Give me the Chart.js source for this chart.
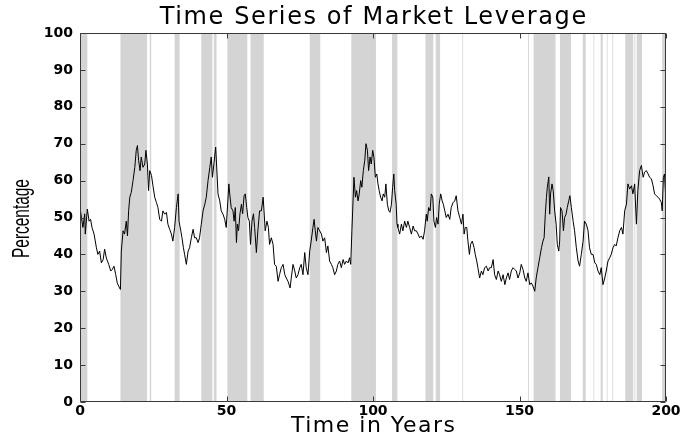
<!DOCTYPE html>
<html><head><meta charset="utf-8">
<script src="https://cdn.jsdelivr.net/npm/chart.js@4"></script>
<style>html,body{margin:0;padding:0;background:#fff}#wrap{width:683px;height:437px}</style>
</head><body><div id="wrap"><canvas id="c" width="683" height="437"></canvas></div>
<script>
const chartTitle = 'Time Series of Market Leverage';
const xTitle = 'Time in Years';
const yTitle = 'Percentage';
const xTickStep = 50;
const yTickStep = 10;

const years = [
0.0,0.5,1.0,1.6,1.8,2.5,3.1,3.6,4.1,4.8,5.6,6.1,6.7,7.3,7.9,8.4,9.0,9.8,10.5,11.0,11.6,12.2,12.7,13.5,13.8,
14.1,14.7,15.2,15.8,16.2,16.6,17.0,17.5,18.1,18.7,19.2,19.6,20.0,20.5,20.9,21.5,22.1,22.5,23.0,23.4,23.8,24.4,24.9,
25.5,26.1,26.6,27.2,27.8,28.3,28.9,29.5,30.0,30.6,31.2,31.7,32.3,32.9,33.5,33.8,34.4,34.8,35.3,35.7,36.3,36.9,37.4,
38.0,38.6,39.1,39.7,40.3,40.8,41.4,42.0,42.6,43.1,43.7,44.3,44.8,45.2,45.7,46.3,46.6,47.1,47.7,48.2,48.8,49.4,49.9,
50.5,50.8,51.1,51.6,52.2,52.6,53.0,53.4,53.7,54.1,54.6,55.1,55.5,56.0,56.4,56.9,57.3,57.8,58.2,58.7,59.2,59.6,60.2,
60.7,61.3,61.9,62.5,62.8,63.2,63.8,64.3,64.7,65.3,65.9,66.4,67.0,67.6,68.1,68.7,69.3,69.9,70.4,71.0,71.7,72.1,72.7,
73.3,73.8,74.4,75.0,75.5,76.1,76.7,77.2,77.8,78.4,78.9,79.5,79.9,80.3,80.7,81.2,81.8,82.4,82.9,83.5,84.1,84.6,85.2,
85.8,86.3,86.9,87.5,88.0,88.6,89.2,89.8,90.3,90.9,91.5,92.0,92.4,92.8,93.5,94.0,94.4,94.9,95.3,95.8,96.2,96.7,97.2,
97.6,98.1,98.5,99.0,99.4,99.9,100.3,100.8,101.3,101.7,102.1,102.6,103.1,103.5,104.0,104.4,104.9,105.4,105.8,106.3,
106.7,107.1,107.4,107.9,108.2,108.5,109.1,109.7,110.2,110.8,111.4,111.9,112.5,113.1,113.7,114.2,114.8,115.4,115.9,
116.5,117.1,117.6,118.2,118.5,119.0,119.5,119.9,120.4,120.8,121.3,121.7,122.2,122.6,123.1,123.6,124.0,124.5,125.0,
125.6,126.2,126.7,127.3,127.9,128.4,129.0,129.6,130.2,130.7,131.1,131.5,132.0,132.4,132.9,133.3,133.9,134.5,134.9,
135.4,135.8,136.4,137.0,137.5,138.1,138.7,139.3,139.8,140.4,141.0,141.5,142.1,142.7,143.2,143.8,144.4,145.0,145.5,
146.1,146.6,147.2,147.8,148.4,148.9,149.5,150.1,150.6,151.2,151.8,152.3,152.9,153.5,154.0,154.6,155.2,155.7,156.3,
156.9,157.5,158.0,158.4,158.8,159.2,159.5,160.0,160.3,160.6,161.1,161.5,162.0,162.5,162.9,163.4,163.7,164.0,164.5,
165.0,165.4,165.9,166.3,166.8,167.2,167.7,168.3,168.8,169.4,170.0,170.5,171.1,171.7,172.2,172.8,173.4,173.9,174.5,
175.1,175.7,176.2,176.8,177.4,177.9,178.5,179.1,179.6,180.2,180.8,181.3,181.9,182.5,183.0,183.6,184.2,184.8,185.3,
185.9,186.5,187.0,187.6,188.2,188.7,189.3,189.9,190.4,191.0,191.6,192.2,192.7,193.3,193.9,194.4,195.0,195.6,196.1,
196.7,197.3,197.8,198.4,198.7,199.1,199.5,199.9,200.0
];

const leverage = [
52.7,50.0,47.3,51.0,45.5,52.3,49.0,49.5,47.3,45.5,41.8,40.0,40.9,37.7,38.6,41.4,39.0,37.3,35.5,35.9,36.8,34.5,32.3,30.9,30.5,
40.9,46.4,45.5,49.0,45.0,51.8,55.5,56.8,60.0,63.6,68.2,69.5,65.5,62.7,66.4,63.6,64.5,68.2,64.5,57.3,62.7,61.4,58.6,
55.5,54.0,52.7,49.5,49.0,51.8,50.9,51.4,48.2,46.8,45.5,43.6,47.3,52.7,56.4,49.0,46.4,44.5,41.8,40.0,37.3,40.9,41.8,
44.5,46.8,44.5,44.5,43.2,44.5,48.2,51.8,53.6,55.5,60.0,63.6,66.4,60.9,64.5,69.1,64.5,56.4,54.5,51.8,50.9,49.5,47.3,
55.0,59.1,56.4,52.7,51.8,49.0,52.7,43.2,48.2,46.4,51.0,53.6,51.0,55.9,56.4,52.7,50.0,49.0,42.7,49.0,51.0,47.3,40.5,
46.4,51.8,51.8,55.5,51.8,46.4,49.0,47.3,42.7,44.5,42.7,37.3,36.8,32.7,34.5,36.4,37.3,34.5,33.6,32.7,30.9,33.6,37.3,
35.5,33.6,34.5,36.4,37.3,34.5,40.5,36.4,34.5,40.9,43.6,47.3,49.5,46.4,43.6,47.3,46.4,45.5,43.6,44.5,40.5,42.3,38.2,
37.3,36.4,34.5,35.5,37.3,38.2,36.4,38.6,37.3,38.2,37.7,39.1,37.3,46.4,60.9,55.5,57.3,54.5,56.4,60.0,58.2,62.7,65.5,
70.0,68.2,62.7,66.4,64.5,68.2,66.4,60.9,61.8,59.1,57.3,55.5,54.5,56.4,55.5,59.1,53.6,51.8,51.4,53.6,
58.2,61.8,57.3,53.6,48.2,47.3,45.5,48.2,46.4,49.0,47.3,49.0,47.3,45.5,47.7,46.4,46.4,45.5,44.5,
45.0,44.1,46.4,50.9,49.0,52.7,51.8,56.4,55.5,49.0,47.3,50.0,48.2,53.6,56.4,54.5,53.6,51.8,50.0,
50.9,49.5,52.7,54.0,54.5,55.9,51.8,50.0,48.2,50.9,45.5,47.3,47.3,43.6,40.0,42.7,43.6,41.8,40.0,
38.2,36.4,33.6,35.5,34.5,36.4,36.8,35.5,36.4,36.4,38.6,34.5,33.2,35.5,34.5,32.7,34.5,31.8,33.6,
35.0,33.2,35.5,36.4,35.9,35.5,33.6,35.0,37.3,35.9,33.6,32.7,35.0,31.8,32.3,31.4,30.0,33.6,36.4,
39.1,41.8,43.6,44.5,50.9,55.5,58.2,61.0,50.9,56.4,59.1,57.3,51.8,48.2,42.7,40.9,43.6,52.7,51.8,
46.4,50.0,50.9,52.7,54.5,55.9,52.7,49.0,46.4,41.8,38.2,36.8,40.0,43.6,49.0,48.2,46.4,41.8,40.0,
40.0,37.7,37.3,35.5,34.5,36.4,31.8,33.6,35.5,38.2,39.1,40.0,41.8,42.7,42.3,44.5,46.4,47.3,45.5,
51.8,53.6,59.1,57.7,58.6,56.4,59.1,48.2,57.3,62.7,64.1,60.9,62.3,62.7,61.8,60.9,60.5,58.6,56.4,
55.9,55.5,55.0,54.1,51.8,60.9,61.8,55.5,47.3
];

// shaded periods (start year, end year)
const bandStart = [0.2,13.8,23.8,32.3,41.4,45.7,50.3,58.2,78.4,92.6,106.5,117.9,121.4,130.5,152.9,154.8,163.8,171.6,175.25,177.7,179.8,181.7,186.1,189.2,190.0,198.7];
const bandEnd   = [2.5,22.9,24.3,34.0,45.2,46.6,57.1,62.7,82.0,101.0,108.3,120.6,122.9,130.75,153.2,162.3,167.6,172.6,175.5,178.4,180.05,181.95,188.8,189.5,191.8,199.7];

const overlay = {
  id: 'overlay',
  beforeDatasetsDraw(chart) {
    const {ctx, chartArea: a, scales: {x}} = chart;
    ctx.save();
    ctx.fillStyle = '#d4d4d4';
    for (let i = 0; i < bandStart.length; i++) {
      const x0 = x.getPixelForValue(bandStart[i]);
      const x1 = x.getPixelForValue(bandEnd[i]);
      ctx.fillRect(x0, a.top, x1 - x0, a.bottom - a.top);
    }
    ctx.restore();
  },
  afterDraw(chart) {
    const {ctx, chartArea: a, scales: {x, y}} = chart;
    ctx.save();
    ctx.strokeStyle = '#3a3a3a';
    ctx.lineWidth = 1;
    ctx.beginPath();
    const L = Math.round(a.left) + 0.5, R = Math.round(a.right) - 0.5;
    const T = Math.round(a.top) + 0.5, B = Math.round(a.bottom) - 0.5;
    ctx.rect(L, T, R - L, B - T);
    y.ticks.forEach(t => {
      const py = Math.round(y.getPixelForValue(t.value)) + 0.5;
      ctx.moveTo(L, py); ctx.lineTo(L + 5, py);
      ctx.moveTo(R, py); ctx.lineTo(R - 5, py);
    });
    x.ticks.forEach(t => {
      const px = Math.round(x.getPixelForValue(t.value)) + 0.5;
      ctx.moveTo(px, B); ctx.lineTo(px, B - 5);
      ctx.moveTo(px, T); ctx.lineTo(px, T + 5);
    });
    ctx.stroke();
    const cx = (a.left + a.right) / 2;
    ctx.fillStyle = '#000';
    ctx.textAlign = 'center';
    ctx.textBaseline = 'middle';
    // chart title
    ctx.font = '24px "DejaVu Sans", sans-serif';
    try { ctx.letterSpacing = '1.6px'; } catch (e) {}
    ctx.fillText(chartTitle, cx + 0.8, 17.5);
    // x axis title
    ctx.font = '22px "DejaVu Sans", sans-serif';
    try { ctx.letterSpacing = '1.5px'; } catch (e) {}
    ctx.fillText(xTitle, cx + 0.7, 426);
    // y axis title (rotated, condensed)
    try { ctx.letterSpacing = '0px'; } catch (e) {}
    ctx.font = '23px "Liberation Sans", Arial, sans-serif';
    ctx.translate(23, (a.top + a.bottom) / 2 + 1);
    ctx.rotate(-Math.PI / 2);
    ctx.scale(0.67, 1);
    ctx.fillText(yTitle, 0, 0);
    ctx.restore();
  }
};

new Chart(document.getElementById('c'), {
  type: 'line',
  data: {
    datasets: [{
      data: years.map((t, i) => ({x: t, y: leverage[i]})),
      borderColor: '#000',
      borderWidth: 1,
      pointRadius: 0,
      tension: 0,
      fill: false
    }]
  },
  options: {
    responsive: false,
    animation: false,
    devicePixelRatio: 1,
    layout: {padding: {top: 33, right: 17, left: 0, bottom: 0}},
    plugins: {legend: {display: false}, tooltip: {enabled: false}, title: {display: false}},
    scales: {
      x: {
        type: 'linear', min: 0, max: 200,
        ticks: {stepSize: xTickStep, maxRotation: 0, color: '#000', padding: 1,
                font: {family: '"DejaVu Sans", sans-serif', size: 14, weight: 'bold'}},
        grid: {display: false, drawTicks: false},
        border: {display: false},
        title: {display: false, text: xTitle},
        afterFit(s) { s.height = 35; }
      },
      y: {
        type: 'linear', min: 0, max: 100,
        ticks: {stepSize: yTickStep, color: '#000', padding: 7,
                font: {family: '"DejaVu Sans", sans-serif', size: 14, weight: 'bold'}},
        grid: {display: false, drawTicks: false},
        border: {display: false},
        title: {display: false, text: yTitle},
        afterFit(s) { s.width = 80; }
      }
    }
  },
  plugins: [overlay]
});
</script>
</body></html>
